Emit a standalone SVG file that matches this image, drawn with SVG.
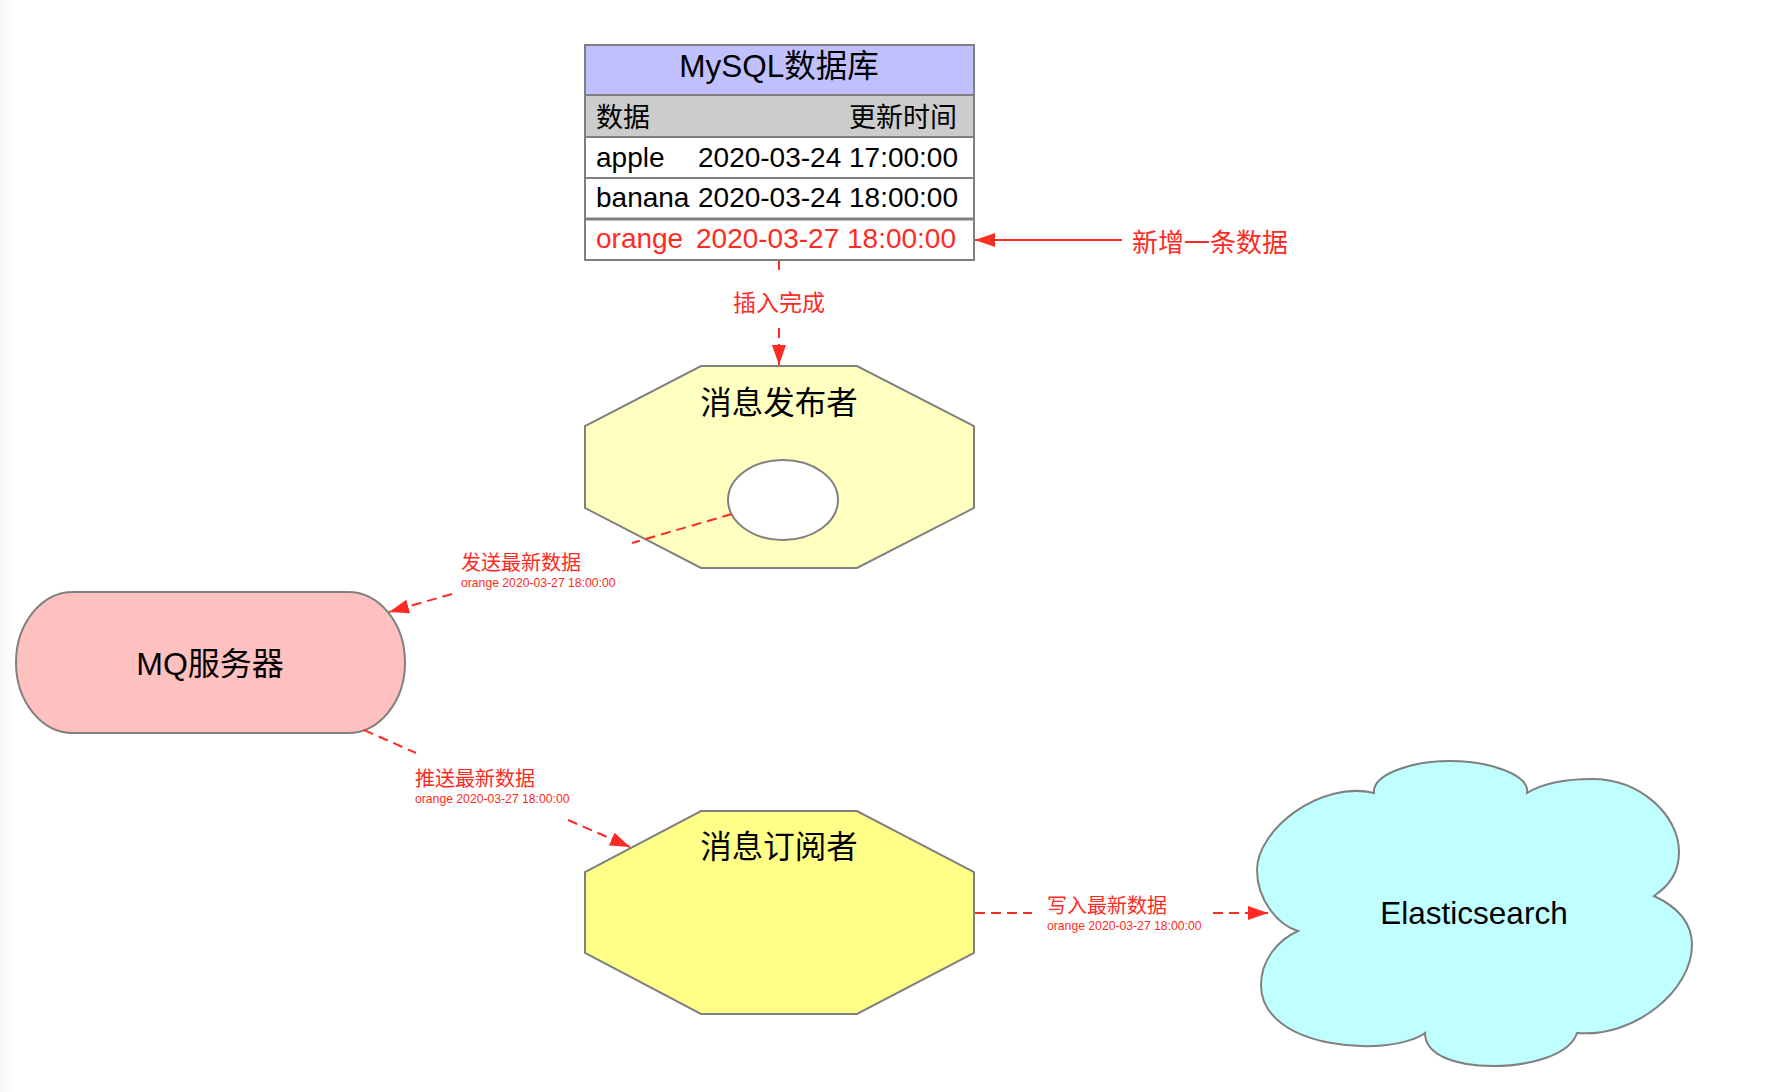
<svg xmlns="http://www.w3.org/2000/svg" width="1782" height="1092" viewBox="0 0 1782 1092">
<style>
text{font-family:"Liberation Sans","Noto Sans CJK SC",sans-serif;}
.shape{stroke:#808080;stroke-width:2;}
.red{fill:#ff2a23;}
.blk{fill:#000;}
.dash{stroke:#ff2a23;stroke-width:2;stroke-dasharray:10,6;fill:none;}
.solid{stroke:#ff2a23;stroke-width:2;fill:none;}
.node{font-size:31.5px;fill:#000;}
.lbl{font-size:20px;fill:#ff2a23;}
.sm{font-size:12.2px;fill:#ff2a23;}
.row{font-size:28px;}
</style>
<defs>
<linearGradient id="edge" x1="0" y1="0" x2="1" y2="0">
<stop offset="0" stop-color="#f6f6f6"/>
<stop offset="1" stop-color="#ffffff"/>
</linearGradient>
<marker id="arr" markerUnits="userSpaceOnUse" markerWidth="20" markerHeight="14" refX="20" refY="7" orient="auto" viewBox="0 0 20 14">
<path d="M0,0 L20,7 L0,14 z" fill="#ff2a23"/>
</marker>
</defs>
<rect x="0" y="0" width="1782" height="1092" fill="#ffffff"/>
<rect x="0" y="0" width="16" height="1092" fill="url(#edge)"/>

<g id="mysql">
<rect x="585" y="45" width="389" height="50" fill="#c0c0ff"/>
<rect x="585" y="95" width="389" height="42" fill="#cccccc"/>
<rect x="585" y="137" width="389" height="123" fill="#ffffff"/>
<g class="shape">
<line x1="585" y1="95" x2="974" y2="95"/>
<line x1="585" y1="137" x2="974" y2="137"/>
<line x1="585" y1="178" x2="974" y2="178"/>
<line x1="585" y1="219" x2="974" y2="219" stroke-width="3"/>
<rect x="585" y="45" width="389" height="215" fill="none"/>
</g>
<text x="779" y="77" text-anchor="middle" style="font-size:31.5px" class="blk">MySQL数据库</text>
<text x="596" y="127" style="font-size:27px" class="blk">数据</text>
<text x="957" y="127" text-anchor="end" style="font-size:27px" class="blk">更新时间</text>
<text x="596" y="167" class="row blk">apple</text>
<text x="958" y="167" text-anchor="end" class="row blk">2020-03-24 17:00:00</text>
<text x="596" y="207" class="row blk">banana</text>
<text x="958" y="207" text-anchor="end" class="row blk">2020-03-24 18:00:00</text>
<text x="596" y="248" class="row red">orange</text>
<text x="696" y="248" class="row red">2020-03-27 18:00:00</text>
</g>

<g id="publisher">
<polygon class="shape" fill="#ffffc0" points="701,366 857,366 974,426 974,508 857,568 701,568 585,508 585,426"/>
<text x="779" y="414" text-anchor="middle" class="node">消息发布者</text>
<ellipse class="shape" cx="783" cy="500" rx="55" ry="40" fill="#ffffff"/>
</g>

<g id="mq">
<rect class="shape" x="16" y="592" width="389" height="141" rx="57" ry="70.5" fill="#ffc0c0"/>
<text x="210" y="675" text-anchor="middle" style="font-size:32px" class="blk">MQ服务器</text>
</g>

<g id="subscriber">
<polygon class="shape" fill="#ffff88" points="701,811 857,811 974,872 974,953 857,1014 701,1014 585,953 585,872"/>
<text x="779" y="858" text-anchor="middle" class="node">消息订阅者</text>
</g>

<g id="elasticsearch">
<path class="shape" fill="#c0ffff" d="M1298,931 C1278,925 1257,900 1257,870 C1257,830 1320,780 1374,793 C1372,775 1410,761 1450,761 C1490,761 1530,775 1527,793 C1545,782 1570,779 1592,779 C1640,779 1679,815 1679,852 C1679,872 1670,885 1654,896 C1680,908 1692,925 1692,945 C1692,990 1635,1038 1577,1033 C1570,1055 1530,1066 1493,1066 C1455,1066 1425,1055 1425,1033 C1390,1058 1261,1050 1261,985 C1261,960 1278,940 1298,931 Z"/>
<text x="1474" y="924" text-anchor="middle" class="node">Elasticsearch</text>
</g>

<g id="connectors">
<line class="solid" x1="1122" y1="240" x2="975" y2="240" marker-end="url(#arr)"/>
<text x="1132" y="252" style="font-size:26px" class="red">新增一条数据</text>

<line class="dash" x1="779" y1="261" x2="779" y2="270"/>
<text x="779" y="311" text-anchor="middle" style="font-size:23px" class="red">插入完成</text>
<line class="dash" x1="779" y1="328" x2="779" y2="365" marker-end="url(#arr)"/>

<line class="dash" x1="732" y1="514" x2="632" y2="543"/>
<line class="dash" x1="452" y1="594" x2="389" y2="612" marker-end="url(#arr)"/>
<text x="461" y="570" class="lbl">发送最新数据</text>
<text x="461" y="587" class="sm">orange 2020-03-27 18:00:00</text>

<line class="dash" x1="364" y1="730" x2="416" y2="753"/>
<line class="dash" x1="568" y1="820" x2="630" y2="847" marker-end="url(#arr)"/>
<text x="415" y="786" class="lbl">推送最新数据</text>
<text x="415" y="803" class="sm">orange 2020-03-27 18:00:00</text>

<line class="dash" x1="975" y1="913" x2="1032" y2="913"/>
<line class="dash" x1="1213" y1="913" x2="1268" y2="913" marker-end="url(#arr)"/>
<text x="1047" y="913" class="lbl">写入最新数据</text>
<text x="1047" y="930" class="sm">orange 2020-03-27 18:00:00</text>
</g>
</svg>
